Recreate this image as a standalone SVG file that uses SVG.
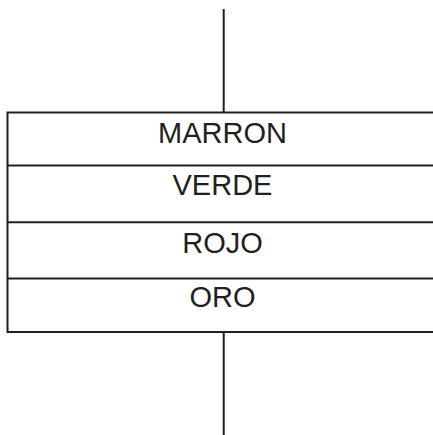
<svg xmlns="http://www.w3.org/2000/svg" width="433" height="435" viewBox="0 0 433 435">
<style>
.ln{stroke:#231f20;stroke-width:2;fill:none}
.t{font-family:"Liberation Sans",Arial,sans-serif;font-size:29px;fill:#231f20;text-anchor:middle}
</style>
<rect width="433" height="435" fill="#fff"/>
<g id="connectors">
<line class="ln" x1="223.7" y1="9" x2="223.7" y2="112.5"/>
<line class="ln" x1="223.7" y1="332" x2="223.7" y2="435"/>
</g>
<g id="frame">
<polyline class="ln" points="433,112.5 7.5,112.5 7.5,332 433,332"/>
</g>
<g id="marron">
<text class="t" x="222.5" y="142.7">MARRON</text>
<line class="ln" x1="7.5" y1="165.5" x2="433" y2="165.5"/>
</g>
<g id="verde">
<text class="t" x="222.5" y="195.3">VERDE</text>
<line class="ln" x1="7.5" y1="222.3" x2="433" y2="222.3"/>
</g>
<g id="rojo">
<text class="t" x="222.5" y="253.3">ROJO</text>
<line class="ln" x1="7.5" y1="278.5" x2="433" y2="278.5"/>
</g>
<g id="oro">
<text class="t" x="222.5" y="306.7">ORO</text>
</g>
</svg>
